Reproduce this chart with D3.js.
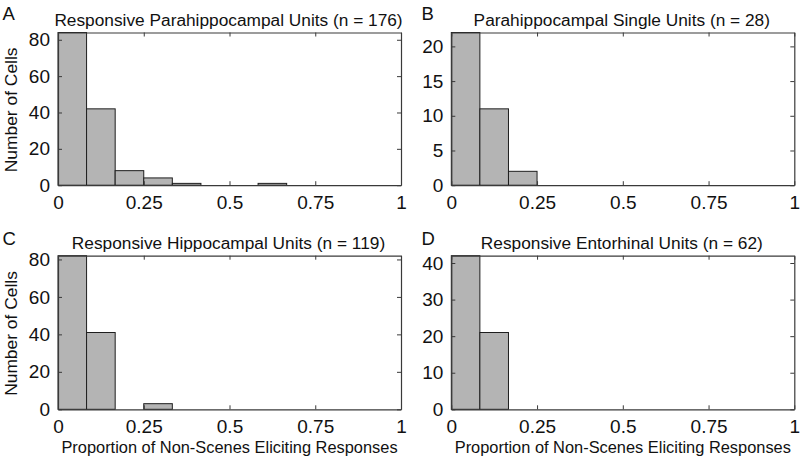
<!DOCTYPE html>
<html><head><meta charset="utf-8">
<script src="https://cdn.jsdelivr.net/npm/d3@7"></script>
<style>
body{margin:0;background:#fff}
svg text{font-family:"Liberation Sans",Arial,Helvetica,sans-serif;fill:#111}
</style>
</head><body>
<svg id="chart" width="802" height="475"></svg>
<script>
// ---- data ----
const binEdges = [0, 0.0833, 0.1667, 0.25, 0.3333, 0.4167, 0.5, 0.5833, 0.6667, 0.75, 0.8333, 0.9167, 1];
const countsA = [84, 42, 8, 4, 1, 0, 0, 1, 0, 0, 0, 0];
const countsB = [22, 11, 2, 0, 0, 0, 0, 0, 0, 0, 0, 0];
const countsC = [82, 41, 0, 3, 0, 0, 0, 0, 0, 0, 0, 0];
const countsD = [42, 21, 0, 0, 0, 0, 0, 0, 0, 0, 0, 0];
const panelTitles = ["Responsive Parahippocampal Units (n = 176)", "Parahippocampal Single Units (n = 28)",
                     "Responsive Hippocampal Units (n = 119)", "Responsive Entorhinal Units (n = 62)"];
const panelLetters = ["A", "B", "C", "D"];
const yTicksA = [0, 20, 40, 60, 80];
const yTicksB = [0, 5, 10, 15, 20];
const yTicksC = [0, 20, 40, 60, 80];
const yTicksD = [0, 10, 20, 30, 40];
const xTicks = [0, 0.25, 0.5, 0.75, 1];
const xTickLabels = ["0", "0.25", "0.5", "0.75", "1"];
const yAxisLabel = "Number of Cells";
const xAxisLabel = "Proportion of Non-Scenes Eliciting Responses";

// ---- layout ----
const svg = d3.select("#chart");
const W = 343;
const panels = [
  {counts: countsA, ticks: yTicksA, left: 58,    top: 32.5,  bottom: 185.2, ylab: true,  xlab: false},
  {counts: countsB, ticks: yTicksB, left: 451.3, top: 32.5,  bottom: 185.2, ylab: false, xlab: false},
  {counts: countsC, ticks: yTicksC, left: 58,    top: 255.7, bottom: 409.3, ylab: true,  xlab: true},
  {counts: countsD, ticks: yTicksD, left: 451.3, top: 255.7, bottom: 409.3, ylab: false, xlab: true}
];
const axisColor = "#3a3a3a";

panels.forEach((p, i) => {
  const x = d3.scaleLinear().domain([0, 1]).range([p.left, p.left + W]);
  const y = d3.scaleLinear().domain([0, d3.max(p.counts)]).range([p.bottom, p.top]);
  const g = svg.append("g");
  const cx = p.left + W / 2;

  // bars
  const bars = p.counts.map((c, k) => ({c, x0: binEdges[k], x1: binEdges[k + 1]})).filter(d => d.c > 0);
  g.selectAll("rect.bar").data(bars).join("rect")
    .attr("class", "bar")
    .attr("x", d => x(d.x0)).attr("width", d => x(d.x1) - x(d.x0))
    .attr("y", d => y(d.c)).attr("height", d => y(0) - y(d.c))
    .attr("fill", "#b4b4b4").attr("stroke", "#1e1e1e").attr("stroke-width", 1);

  // axes (box with inward ticks)
  const fmt = (d) => xTickLabels[xTicks.indexOf(d)];
  const bottomAxis = g.append("g").attr("transform", `translate(0,${p.bottom})`)
    .call(d3.axisBottom(x).tickValues(xTicks).tickFormat(fmt).tickSizeInner(-4).tickSizeOuter(0).tickPadding(10.5));
  const topAxis = g.append("g").attr("transform", `translate(0,${p.top})`)
    .call(d3.axisTop(x).tickValues(xTicks).tickFormat("").tickSizeInner(-4).tickSizeOuter(0));
  const leftAxis = g.append("g").attr("transform", `translate(${p.left},0)`)
    .call(d3.axisLeft(y).tickValues(p.ticks).tickFormat(d3.format("d")).tickSizeInner(-4).tickSizeOuter(0).tickPadding(8));
  const rightAxis = g.append("g").attr("transform", `translate(${p.left + W},0)`)
    .call(d3.axisRight(y).tickValues(p.ticks).tickFormat("").tickSizeInner(-4).tickSizeOuter(0));
  [bottomAxis, topAxis, leftAxis, rightAxis].forEach(a => {
    a.attr("color", axisColor).attr("font-size", null).attr("font-family", null);
    a.select(".domain").attr("stroke-width", 1.2);
    a.selectAll(".tick line").attr("stroke-width", 1);
    a.selectAll("text").style("font-size", "19px").style("fill", "#111");
  });

  // title
  g.append("text").attr("x", cx - 1).attr("y", p.top - 6.8)
    .attr("text-anchor", "middle").style("font-size", "17.3px").text(panelTitles[i]);
  // panel letter
  g.append("text").attr("x", i % 2 === 0 ? 2.5 : 421.5).attr("y", i < 2 ? 20 : 245)
    .style("font-size", "18.5px").text(panelLetters[i]);
  // y label
  if (p.ylab) {
    g.append("text").attr("transform", `translate(16.6,${(p.top + p.bottom) / 2 + 1}) rotate(-90)`)
      .attr("text-anchor", "middle").style("font-size", "17.4px").text(yAxisLabel);
  }
  if (p.xlab) {
    g.append("text").attr("x", cx).attr("y", 453.3)
      .attr("text-anchor", "middle").style("font-size", "16.4px").text(xAxisLabel);
  }
});
</script>
</body></html>
